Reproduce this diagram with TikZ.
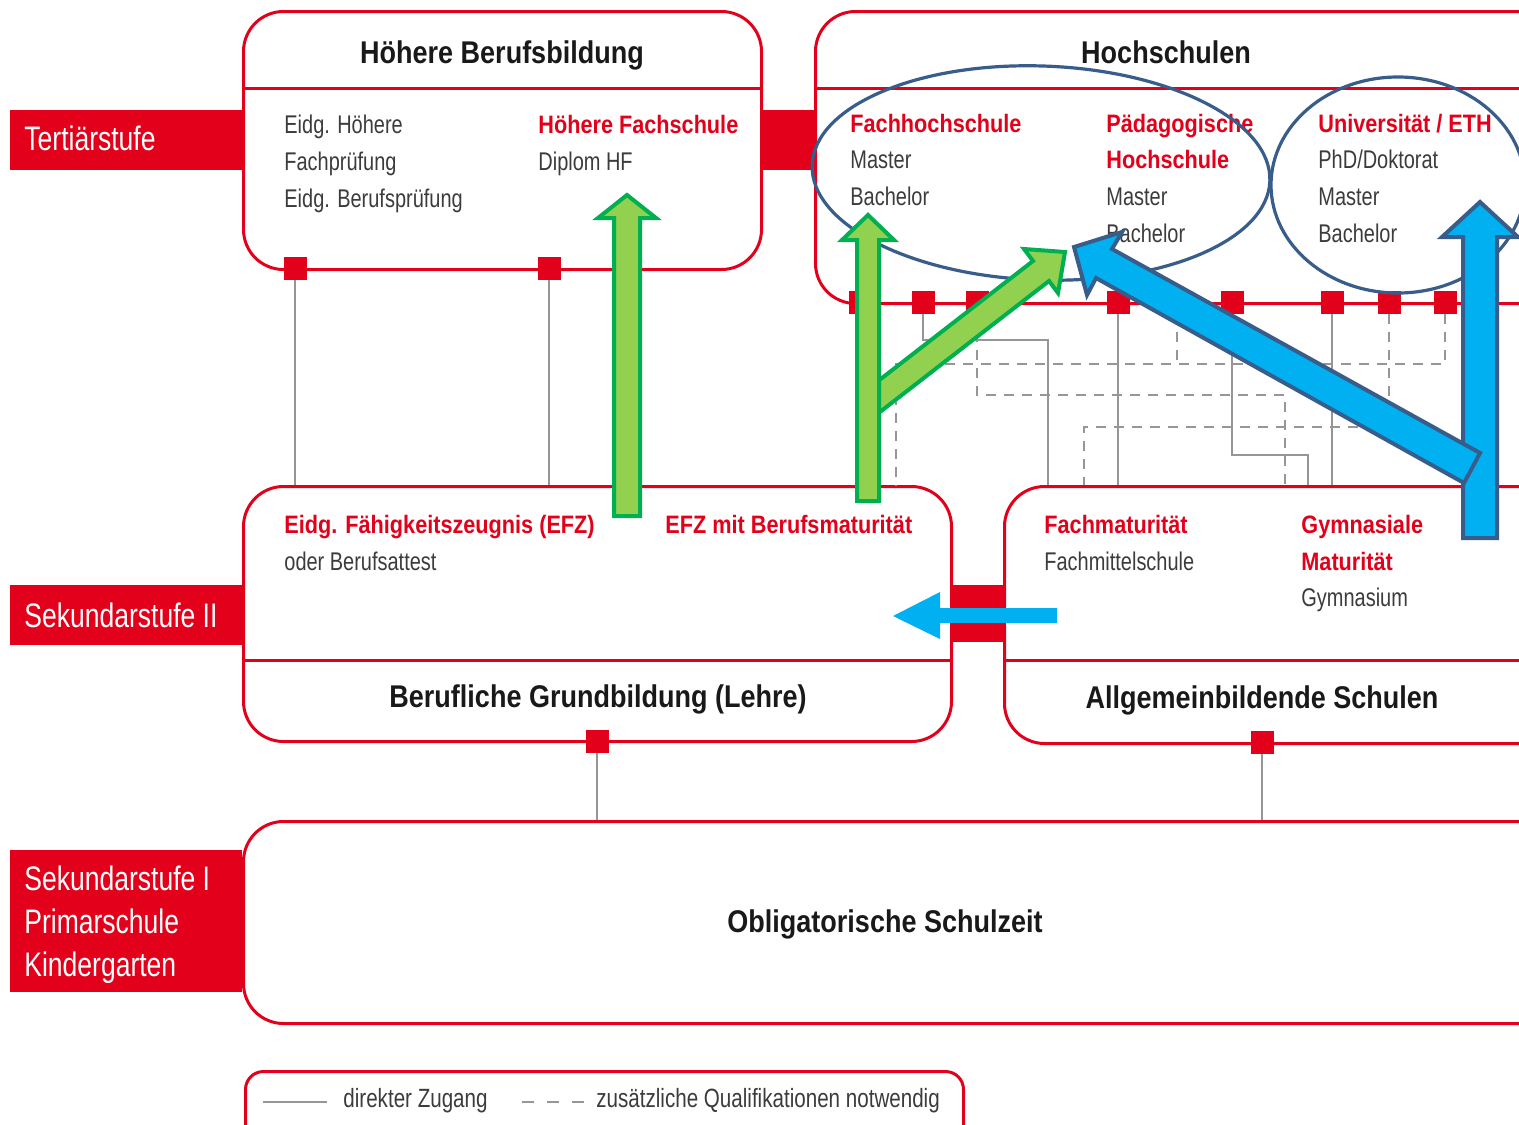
\documentclass[tikz,border=0pt]{standalone}
\usepackage{fontspec}
\newfontfamily\lightf[FakeStretch=0.78]{Liberation Sans}
\newfontfamily\boldf[FakeStretch=0.86]{Liberation Sans}
\definecolor{swissred}{RGB}{226,0,26}
\definecolor{linegray}{RGB}{150,150,150}
\definecolor{txtgray}{RGB}{60,60,60}
\definecolor{ttlblack}{RGB}{25,25,25}
\definecolor{gfill}{RGB}{146,208,80}
\definecolor{gline}{RGB}{0,176,80}
\definecolor{bfill}{RGB}{0,176,240}
\definecolor{ringblue}{RGB}{56,93,138}

\begin{document}
\begin{tikzpicture}[x=0.5pt, y=-0.5pt,
	redbox/.style={draw=swissred, line width=1.5pt, rounded corners=20pt, inner sep=0pt, anchor=north west},
	sq/.style={fill=swissred, minimum size=11.5pt, inner sep=0pt},
	direct/.style={draw=linegray, line width=1.3pt},
	extra/.style={draw=linegray, line width=1.3pt, dash pattern=on 5pt off 4pt},
	ttl/.style={font=\boldf\bfseries\fontsize{15.7}{19}\selectfont, text=ttlblack, anchor=base, inner sep=0pt},
	lab/.style={font=\boldf\bfseries\fontsize{12.6}{15}\selectfont, text=swissred, anchor=base west, inner sep=0pt},
	txt/.style={font=\lightf\fontsize{12.8}{15}\selectfont, text=txtgray, anchor=base west, inner sep=0pt},
	stage/.style={font=\lightf\fontsize{17}{20}\selectfont, text=white, anchor=base west, inner sep=0pt},
	ring/.style={draw=ringblue, line width=1.6pt},
	garrow/.style={fill=gfill, draw=gline, line width=2pt},
	barrow/.style={fill=bfill, draw=ringblue, line width=2pt}]
	\useasboundingbox (0,0) rectangle (1519,1124);
	\clip (0,0) rectangle (1519,1124);
	\fill[white] (0,0) rectangle (1519,1124);
	\fill[swissred] (10,110) rectangle (242,170);
	\fill[swissred] (760,110) rectangle (814,170);
	\fill[swissred] (10,585) rectangle (242,645);
	\fill[swissred] (950,585) rectangle (1003,642);
	\fill[swissred] (10,850) rectangle (242,992);
	\node[redbox, minimum width=259pt, minimum height=129pt] (hbb) at (242,10) {};
	\node[redbox, minimum width=383pt, minimum height=146pt] (hs) at (814,10) {};
	\node[redbox, minimum width=354pt, minimum height=127.5pt] (bgb) at (242,485) {};
	\node[redbox, minimum width=288.5pt, minimum height=128.5pt] (abs) at (1003,485) {};
	\node[redbox, minimum width=669pt, minimum height=101pt] (obl) at (242,820) {};
	\node[redbox, rounded corners=9pt, minimum width=359pt, minimum height=50pt] (leg) at (244,1070) {};
	\draw[swissred, line width=1.5pt] (242,88) -- (760,88);
	\draw[swissred, line width=1.5pt] (814,88) -- (1580,88);
	\draw[swissred, line width=1.5pt] (242,660) -- (950,660);
	\draw[swissred, line width=1.5pt] (1003,660) -- (1580,660);
	\node[sq] (q1) at (295,268) {};
	\node[sq] (q2) at (549,268) {};
	\node[sq] (q3) at (597,741) {};
	\node[sq] (q4) at (1262,742) {};
	\foreach \x [count=\i] in {860,923,977,1118,1177,1232,1332,1389,1445}
		\node[sq] (h\i) at (\x,302) {};
	\draw[direct] (q1.south) -- (q1.south |- bgb.north);
	\draw[direct] (q2.south) -- (q2.south |- bgb.north);
	\draw[direct] (h1.south) -- (h1.south |- bgb.north);
	\draw[direct] (h2.south) |- (1048,340) -- (1048,485);
	\draw[extra] (h3.south) |- (1285,395) -- (1285,485);
	\draw[direct] (h4.south) -- (h4.south |- abs.north);
	\draw[extra] (h5.south) -- (1177,364);
	\draw[direct] (h6.south) |- (1308,455) -- (1308,485);
	\draw[direct] (h7.south) -- (h7.south |- abs.north);
	\draw[extra] (h8.south) |- (1084,427) -- (1084,485);
	\draw[extra] (h9.south) |- (896,364) -- (896,485);
	\draw[direct] (q3.south) -- (q3.south |- obl.north);
	\draw[direct] (q4.south) -- (q4.south |- obl.north);
	\node[ttl] (hbtitle) at (502,63) {Höhere Berufsbildung};
	\node[ttl] (hstitle) at (1166,63) {Hochschulen};
	\node[ttl] (bgbtitle) at (598,707) {Berufliche Grundbildung (Lehre)};
	\node[ttl] (abstitle) at (1262,708) {Allgemeinbildende Schulen};
	\node[ttl] (obltitle) at (885,932) {Obligatorische Schulzeit};
	\node[stage] (ter) at (24,150) {Tertiärstufe};
	\node[stage] (sk2) at (24,627) {Sekundarstufe II};
	\foreach \t [count=\i] in {Sekundarstufe I, Primarschule, Kindergarten}
		\node[stage] (low\i) at (24,847+43*\i) {\t};
	\foreach \t [count=\i] in {Eidg. Höhere, Fachprüfung, Eidg. Berufsprüfung}
		\node[txt] (hbt\i) at (284,96+37*\i) {\t};
	\node[lab] (hf) at (538,133) {Höhere Fachschule};
	\node[txt] (hft) at (538,170) {Diplom HF};
	\node[lab] (fh) at (850,132) {Fachhochschule};
	\node[txt] (fh1) at (850,168) {Master};
	\node[txt] (fh2) at (850,205) {Bachelor};
	\node[lab] (ph) at (1106,132) {Pädagogische};
	\node[lab] (ph0) at (1106,168) {Hochschule};
	\node[txt] (ph1) at (1106,205) {Master};
	\node[txt] (ph2) at (1106,242) {Bachelor};
	\node[lab] (uni) at (1318,132) {Universität / ETH};
	\foreach \t [count=\i] in {PhD/Doktorat, Master, Bachelor}
		\node[txt] (uni\i) at (1318,131+37*\i) {\t};
	\node[lab] (efz) at (284,533) {Eidg. Fähigkeitszeugnis (EFZ)};
	\node[txt] (efzt) at (284,570) {oder Berufsattest};
	\node[lab] (bm) at (665,533) {EFZ mit Berufsmaturität};
	\node[lab] (fm) at (1044,533) {Fachmaturität};
	\node[txt] (fmt) at (1044,570) {Fachmittelschule};
	\node[lab] (gm) at (1301,533) {Gymnasiale};
	\node[lab] (gm0) at (1301,570) {Maturität};
	\node[txt] (gmt) at (1301,606) {Gymnasium};
	\draw[direct] (263,1102) -- (327,1102);
	\node[txt, font=\lightf\fontsize{13.2}{15}\selectfont] (leg1) at (343,1107) {direkter Zugang};
	\draw[extra, dash pattern=on 6pt off 6.5pt] (522,1102) -- (585,1102);
	\node[txt, font=\lightf\fontsize{13.2}{15}\selectfont] (leg2) at (596,1107) {zusätzliche Qualifikationen notwendig};
	\draw[ring, rotate around={-2:(1041,173)}] (1041,173) ellipse [x radius=229, y radius=107];
	\draw[ring] (1398,185) ellipse [x radius=127, y radius=108];
	\draw[garrow] (860,395) -- (1033,261) -- (1024,249) -- (1065,252) -- (1058,293) -- (1049,281) -- (876,415) -- cycle;
	\draw[garrow] (614,516) -- (614,218) -- (598,218) -- (627,195) -- (656,218) -- (640,218) -- (640,516) -- cycle;
	\draw[garrow] (857,501) -- (857,240) -- (842,240) -- (868,215) -- (894,240) -- (879,240) -- (879,501) -- cycle;
	\draw[barrow] (1463,538) -- (1463,237) -- (1442,237) -- (1480,202) -- (1518,237) -- (1497,237) -- (1497,538) -- cycle;
	\draw[barrow] (1096,278) -- (1087,295) -- (1074,247) -- (1122,232) -- (1112,249) -- (1480,453) -- (1464,483) -- cycle;
	\fill[bfill] (1057,608) -- (940,608) -- (940,592) -- (893,616) -- (940,639) -- (940,623) -- (1057,623) -- cycle;
\end{tikzpicture}
\end{document}
